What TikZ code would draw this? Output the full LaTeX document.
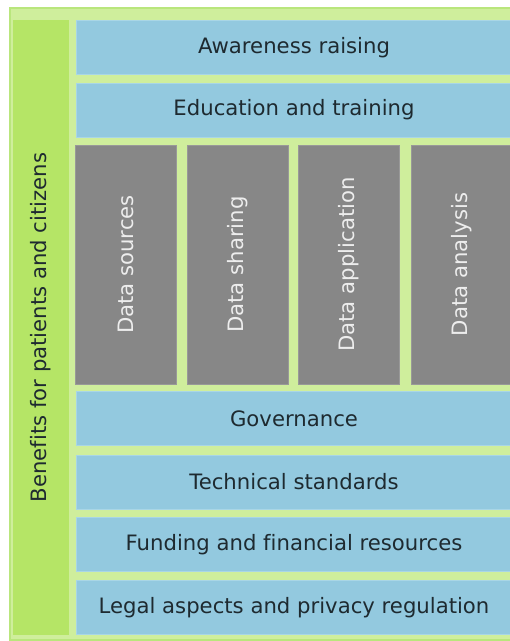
\documentclass[tikz,border=0pt]{standalone}
\usepackage{fontspec}
\setmainfont{DejaVu Sans}[Ligatures=NoCommon]
\usetikzlibrary{calc}

\definecolor{bggreen}{HTML}{CFEE9C}
\definecolor{edgegreen}{HTML}{B9E67C}
\definecolor{sidegreen}{HTML}{B5E566}
\definecolor{layerblue}{HTML}{93C9DF}
\definecolor{layeredge}{HTML}{A9D6E6}
\definecolor{pillargray}{HTML}{878787}
\definecolor{pillaredge}{HTML}{999999}
\definecolor{darktext}{HTML}{1E2A30}

\tikzset{
  layer/.style={draw=layeredge, fill=layerblue, text=darktext, line width=0.8pt,
    minimum width=436pt, minimum height=54pt, inner sep=0pt, font=\fontsize{21.2}{25}\selectfont},
  pillar/.style={draw=pillaredge, fill=pillargray, text=white!93!black, line width=0.8pt,
    rotate=90, minimum width=239pt, minimum height=101pt, inner sep=0pt, font=\fontsize{21.2}{25}\selectfont},
  sidebar/.style={fill=sidegreen, text=darktext, rotate=90,
    minimum width=615pt, minimum height=56pt, inner sep=0pt, font=\fontsize{21.2}{25}\selectfont}
}

\begin{document}
\begin{tikzpicture}[x=1pt,y=-1pt]
    \useasboundingbox (0,0) rectangle (510,641);

    % Frame
    \draw[edgegreen,fill=bggreen,line width=1.5pt] (10,8) rectangle (514,640);

    % Benefits column
    \node[sidebar] (benefits) at (41,327.5) {Benefits for patients and citizens};

    % Top layers
    \node[layer] (awareness) at (294,47.5) {Awareness raising};
    \node[layer] (education) at (294,110) {Education and training};

    % Data pillars
    \node[pillar] (sources) at (125.5,264.5) {Data sources};
    \node[pillar] (sharing) at (237.5,264.5) {Data sharing};
    \node[pillar] (application) at (349,264.5) {Data application};
    \node[pillar] (analysis) at (461.5,264.5) {Data analysis};

    % Bottom layers
    \node[layer] (governance) at (294,418.5) {Governance};
    \node[layer] (standards) at (294,482) {Technical standards};
    \node[layer] (funding) at (294,544.7) {Funding and financial resources};
    \node[layer] (legal) at (294,607.5) {Legal aspects and privacy regulation};
\end{tikzpicture}
\end{document}
